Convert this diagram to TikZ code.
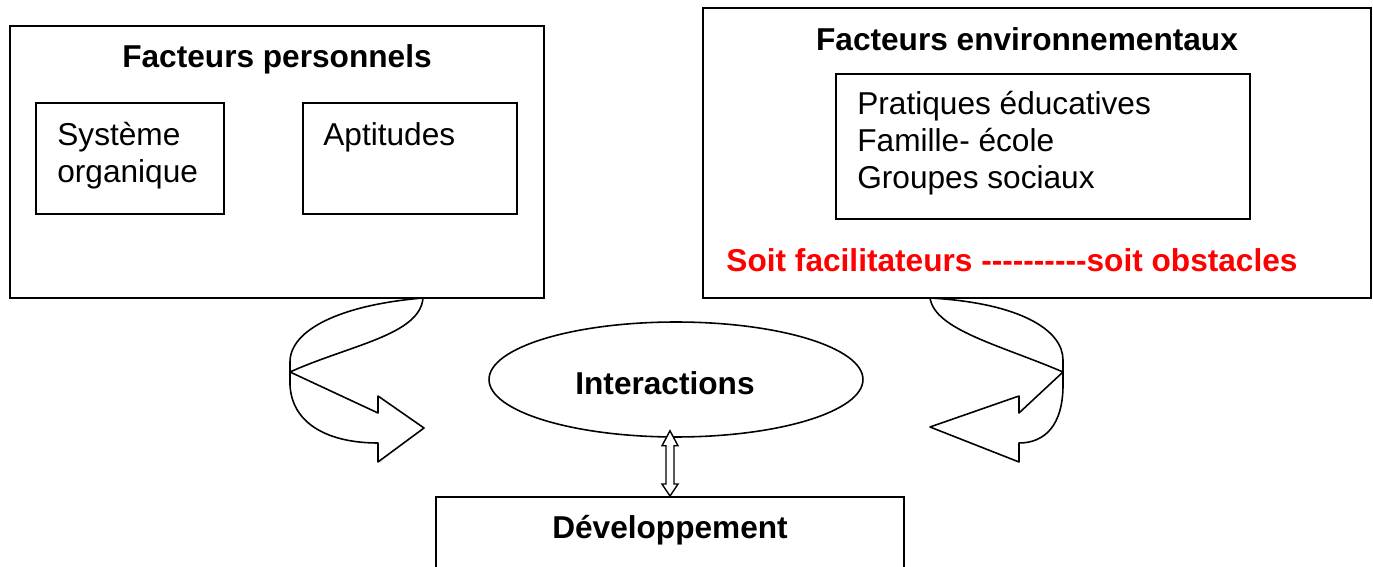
\documentclass[tikz,border=0pt]{standalone}
\usepackage{fontspec}
\setmainfont[Ligatures=TeXOff]{Liberation Sans}
\usetikzlibrary{shapes.geometric, positioning, calc}
\definecolor{alertred}{RGB}{255, 0, 0}

\begin{document}
\begin{tikzpicture}[
	x=0.02cm, y=-0.02cm,
	% boxes
	bigbox/.style={
			rectangle,
			draw=black,
			line width=1.1pt,
			inner sep=0pt
		},
	smallbox/.style={
			rectangle,
			draw=black,
			line width=1.1pt,
			inner sep=0pt
		},
	bubble/.style={
			ellipse,
			draw=black,
			line width=0.9pt,
			minimum width=7.48cm,
			minimum height=2.3cm,
			inner sep=0pt
		},
	% texts
	title/.style={
			font=\fontsize{18}{21}\selectfont\bfseries,
			inner sep=0pt,
			anchor=base
		},
	txt/.style={
			font=\fontsize{18}{21}\selectfont,
			align=left,
			inner sep=0pt,
			anchor=north west
		},
	redtxt/.style={
			font=\fontsize{18}{21}\selectfont\bfseries,
			text=alertred,
			inner sep=0pt,
			anchor=base
		},
	% arrows
	blockarrow/.style={
			draw=black,
			line width=0.9pt,
			line join=round
		},
	hollowarrow/.style={
			draw=black,
			line width=0.8pt,
			fill=white
		}
	]

	\path[use as bounding box, clip] (0,0) rectangle (1373,567);

	% Personal factors
	\node[bigbox, minimum width=10.68cm, minimum height=5.44cm] (perso) at (277,162) {};
	\node[title] (persotitle) at (277,68) {Facteurs personnels};
	\node[smallbox, minimum width=3.76cm, minimum height=2.22cm] (systeme) at (130,158.5) {};
	\node[txt] (systxt) at (57,122) {Système\\organique};
	\node[smallbox, minimum width=4.28cm, minimum height=2.22cm] (aptitudes) at (410,158.5) {};
	\node[txt] (apttxt) at (323,122) {Aptitudes};

	% Environmental factors
	\node[bigbox, minimum width=13.36cm, minimum height=5.8cm] (env) at (1037,153) {};
	\node[title] (envtitle) at (1027,51) {Facteurs environnementaux};
	\node[smallbox, minimum width=8.28cm, minimum height=2.9cm] (pratiques) at (1043,146.5) {};
	\node[txt] (pratxt) at (857,91) {Pratiques éducatives\\Famille- école\\Groupes sociaux};
	\node[redtxt] (effets) at (1012,272) {Soit facilitateurs ----------soit obstacles};

	% Interactions and development
	\node[bubble] (inter) at (676,379.5) {};
	\node[title] (intertxt) at (665,395) {Interactions};
	\node[bigbox, minimum width=9.36cm, minimum height=2.6cm] (dev) at (670,562) {};
	\node[title] (devtxt) at (670,539) {Développement};

	% Curved block arrows
	\draw[blockarrow] (423,298) .. controls (340,305) and (290,330) .. (290,362) -- (290,385)
		.. controls (292,425) and (330,443) .. (378,443) -- (378,462) -- (424,428) -- (378,396)
		-- (378,413) -- (290,372) .. controls (350,345) and (420,335) .. (423,298) -- cycle;
	\draw[blockarrow] (930,298) .. controls (1020,303) and (1063,330) .. (1063,360) -- (1063,385)
		.. controls (1063,425) and (1045,443) .. (1019,443) -- (1019,462) -- (930,427) -- (1019,396)
		-- (1019,413) -- (1063,372) .. controls (1000,345) and (935,330) .. (930,298) -- cycle;

	% Double arrow between interactions and development
	\coordinate (top) at ($(dev.north |- inter.south)+(0,-7)$);
	\coordinate (bot) at (dev.north);
	\draw[hollowarrow] (top) -- ++(8,15) -- ++(-4,0) -- ($(bot)+(4,-12)$) -- ++(4,0) -- (bot)
		-- ++(-8,-12) -- ++(4,0) -- ($(top)+(-4,15)$) -- ++(-4,0) -- cycle;

\end{tikzpicture}
\end{document}
